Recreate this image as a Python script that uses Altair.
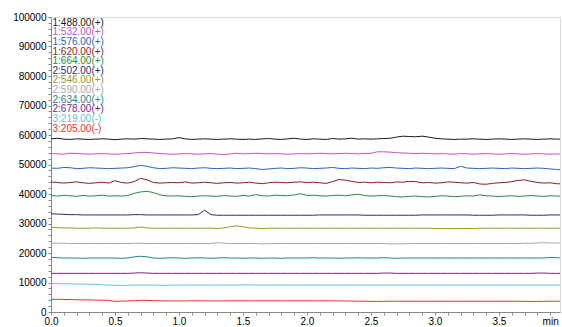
import altair as alt
import pandas as pd

# sampling grid (minutes), 0.05 min steps
times = [round(i * 0.05, 2) for i in range(81)]

labels = ["1:488.00(+)", "1:532.00(+)", "1:576.00(+)", "1:620.00(+)", "1:664.00(+)",
          "2:502.00(+)", "2:546.00(+)", "2:590.00(+)", "2:634.00(+)", "2:678.00(+)",
          "3:219.00(-)", "3:205.00(-)"]
colors = ["#1a1a1a", "#bc56c2", "#2a62c4", "#8b1c1c", "#2a8a3a",
          "#2c2c72", "#9a9a2a", "#a8a8a8", "#1f8585", "#7d1f8c",
          "#5cc8d8", "#e83030"]

s_488 = [58700, 58900, 58600, 58500, 58700, 58600, 58500, 58600, 58700, 58600,
         58400, 58600, 58700, 58600, 58800, 58700, 58600, 58500, 58600, 58700,
         59100, 58700, 58500, 58600, 58700, 58600, 58500, 58600, 58700, 58600,
         58500, 58600, 58500, 58700, 58800, 58600, 58500, 58700, 58900, 58600,
         58500, 58700, 58600, 58500, 58800, 58600, 58700, 58900, 58600, 58700,
         58600, 58700, 58800, 58900, 59300, 59600, 59500, 59400, 59600, 59300,
         58900, 58700, 58600, 58500, 58600, 58600, 58700, 58600, 58500, 58600,
         58700, 58600, 58500, 58600, 58700, 58600, 58500, 58600, 58700, 58600,
         58600]
s_532 = [53700, 53600, 53500, 53800, 53700, 53600, 53500, 53600, 53700, 53600,
         53500, 53600, 53700, 53900, 54100, 54100, 53900, 53700, 53600, 53500,
         53600, 53700, 53600, 53500, 53600, 53700, 53500, 53400, 53600, 53800,
         53600, 53700, 53800, 53700, 53600, 53700, 53600, 53500, 53600, 53700,
         53600, 53700, 53800, 53700, 53600, 53700, 53800, 53700, 53600, 53700,
         53800, 54300, 54300, 54200, 54000, 53900, 53800, 53700, 53800, 53700,
         53600, 53700, 53600, 53500, 53700, 53600, 53500, 53600, 53700, 53600,
         53500, 53600, 53700, 53600, 53500, 53600, 53700, 53600, 53500, 53600,
         53500]
s_576 = [48800, 48700, 49000, 48900, 48600, 48700, 48900, 48800, 48700, 48600,
         48700, 48800, 48900, 49300, 49700, 49400, 48900, 48600, 48700, 48900,
         48800, 48700, 48600, 48800, 48900, 48700, 48600, 48700, 48800, 48600,
         48700, 48800, 48600, 48300, 48500, 48700, 48800, 48600, 48700, 48900,
         48800, 48600, 48700, 48800, 49000, 48700, 48600, 48800, 48700, 48600,
         48800, 48700, 48900, 49000, 48800, 48700, 48600, 48800, 48700, 48600,
         48700, 48800, 48700, 48600, 49400, 48800, 48700, 48600, 48700, 48800,
         48700, 48600, 48800, 48700, 48600, 48700, 48800, 48700, 48500, 48300,
         48200]
s_620 = [44100, 43900, 43700, 43900, 44100, 43800, 43600, 43800, 44000, 43700,
         44500, 43900, 43700, 44200, 45300, 44800, 43900, 43700, 43800, 43900,
         43800, 44100, 43700, 43800, 44000, 43800, 43600, 43800, 43900, 43700,
         43800, 44000, 43700, 43500, 43800, 44000, 43900, 43800, 44000, 44100,
         43900, 44000, 43800, 43600, 44200, 44900, 44700, 44300, 43900, 44000,
         43800, 44000, 43900, 43800, 44100, 44000, 44300, 44200, 43800, 43900,
         43700, 43800, 44100, 44000, 43800, 43700, 43900, 43400, 43300, 43600,
         43800, 43900, 44200, 44600, 44800, 44300, 43900, 43700, 43800, 43500,
         43400]
s_664 = [39500, 39300, 39600, 39400, 39200, 39500, 39300, 39400, 39600, 39300,
         39400, 39300, 39500, 40200, 40700, 40900, 40500, 39700, 39400, 39300,
         39400, 39200, 39100, 39300, 39400, 39300, 39200, 39500, 39300, 39200,
         39500, 39300, 39800, 39400, 39300, 39600, 39500, 39400, 39700, 40100,
         39500, 39600, 39400, 39300, 39500, 39600, 39400, 39700, 39900, 39500,
         39300, 39400, 39500, 39300, 39100, 39000, 39200, 39300, 39100, 39000,
         39200, 39400, 39300, 39100, 39200, 39400, 39300, 39700, 39400, 39300,
         39100, 39300, 39400, 39200, 39300, 39500, 39300, 39200, 39400, 39300,
         39300]
s_502 = [33300, 33200, 33100, 33000, 33000, 32900, 32900, 32900, 32900, 32900,
         32900, 32900, 32900, 33000, 33000, 32900, 32900, 32900, 32900, 32900,
         32900, 32900, 32900, 33000, 34500, 33000, 32800, 32800, 32800, 32800,
         32800, 32800, 32800, 32800, 32800, 32800, 32800, 32800, 32800, 32800,
         32800, 32800, 32900, 32900, 32900, 32900, 32900, 32900, 32900, 32800,
         32800, 32800, 32800, 32800, 32800, 32800, 32800, 32800, 32900, 32900,
         32900, 32900, 32900, 32900, 32900, 32900, 32800, 32800, 32800, 32800,
         32900, 32900, 32900, 32900, 32900, 32800, 32800, 32800, 32900, 32900,
         32900]
s_546 = [28700, 28600, 28500, 28500, 28400, 28400, 28400, 28500, 28400, 28400,
         28400, 28400, 28400, 28500, 28800, 28500, 28400, 28400, 28400, 28400,
         28400, 28400, 28400, 28400, 28400, 28400, 28300, 28500, 28900, 29200,
         28900, 28500, 28400, 28300, 28400, 28400, 28400, 28400, 28400, 28400,
         28400, 28400, 28400, 28400, 28400, 28400, 28400, 28400, 28400, 28400,
         28400, 28400, 28400, 28400, 28400, 28400, 28400, 28400, 28400, 28400,
         28300, 28300, 28300, 28300, 28300, 28300, 28300, 28400, 28400, 28400,
         28400, 28400, 28400, 28400, 28400, 28400, 28400, 28400, 28400, 28400,
         28400]
s_590 = [23400, 23300, 23300, 23200, 23200, 23200, 23200, 23200, 23200, 23200,
         23200, 23200, 23200, 23300, 23300, 23200, 23200, 23200, 23200, 23200,
         23200, 23200, 23200, 23200, 23200, 23200, 23500, 23300, 23200, 23200,
         23200, 23200, 23200, 23100, 23200, 23200, 23200, 23200, 23200, 23200,
         23200, 23200, 23200, 23200, 23200, 23200, 23200, 23200, 23200, 23200,
         23200, 23200, 23200, 23100, 23100, 23100, 23200, 23200, 23200, 23200,
         23200, 23200, 23200, 23200, 23200, 23200, 23200, 23200, 23200, 23200,
         23200, 23200, 23200, 23200, 23300, 23300, 23400, 23500, 23400, 23400,
         23400]
s_634 = [18500, 18400, 18300, 18300, 18300, 18200, 18300, 18300, 18300, 18300,
         18300, 18200, 18300, 18700, 18900, 18700, 18300, 18200, 18300, 18400,
         18300, 18200, 18300, 18400, 18300, 18200, 18300, 18400, 18300, 18300,
         18200, 18300, 18300, 18200, 18300, 18300, 18200, 18300, 18300, 18300,
         18300, 18400, 18300, 18300, 18300, 18200, 18300, 18300, 18400, 18300,
         18300, 18300, 18400, 18300, 18200, 18300, 18300, 18300, 18300, 18300,
         18300, 18300, 18300, 18300, 18300, 18300, 18300, 18300, 18300, 18300,
         18300, 18300, 18300, 18300, 18300, 18300, 18300, 18300, 18500, 18400,
         18300]
s_678 = [13100, 13100, 13100, 13100, 13100, 13100, 13100, 13100, 13100, 13100,
         13100, 13100, 13100, 13200, 13300, 13200, 13100, 13100, 13100, 13100,
         13100, 13100, 13100, 13100, 13100, 13100, 13100, 13100, 13100, 13100,
         13100, 13100, 13100, 13100, 13100, 13100, 13100, 13100, 13100, 13100,
         13100, 13100, 13100, 13100, 13100, 13100, 13100, 13100, 13100, 13100,
         13100, 13100, 13200, 13200, 13100, 13100, 13100, 13100, 13100, 13100,
         13100, 13100, 13100, 13100, 13100, 13100, 13100, 13100, 13100, 13100,
         13100, 13100, 13100, 13100, 13100, 13100, 13200, 13200, 13100, 13100,
         13100]
s_219 = [9700, 9650, 9600, 9550, 9500, 9450, 9400, 9350, 9250, 9150,
         9050, 9000, 9050, 9100, 9150, 9150, 9100, 9050, 9050, 9100,
         9100, 9100, 9150, 9150, 9150, 9100, 9100, 9100, 9150, 9150,
         9200, 9200, 9150, 9150, 9150, 9150, 9150, 9150, 9150, 9150,
         9150, 9150, 9150, 9150, 9150, 9150, 9150, 9150, 9150, 9150,
         9150, 9150, 9150, 9150, 9150, 9150, 9150, 9150, 9150, 9150,
         9150, 9150, 9150, 9150, 9150, 9150, 9150, 9150, 9150, 9150,
         9150, 9150, 9150, 9150, 9150, 9150, 9150, 9150, 9150, 9150,
         9150]
s_205 = [4300, 4300, 4250, 4200, 4150, 4100, 4100, 4050, 4000, 3950,
         3600, 3650, 3750, 3850, 3950, 3950, 3850, 3800, 3750, 3750,
         3750, 3750, 3800, 3800, 3800, 3750, 3750, 3750, 3800, 3800,
         3800, 3800, 3800, 3800, 3800, 3800, 3800, 3800, 3800, 3800,
         3800, 3800, 3800, 3800, 3800, 3750, 3750, 3700, 3650, 3650,
         3600, 3600, 3600, 3650, 3650, 3650, 3650, 3650, 3650, 3650,
         3650, 3650, 3650, 3650, 3650, 3650, 3650, 3650, 3650, 3650,
         3650, 3650, 3650, 3650, 3600, 3600, 3600, 3600, 3650, 3650,
         3650]

series_values = [s_488, s_532, s_576, s_620, s_664, s_502,
                 s_546, s_590, s_634, s_678, s_219, s_205]

x_ticks = [round(i * 0.1, 1) for i in range(40)]
y_ticks = [i * 2000 for i in range(51)]

rows = []
for name, vals in zip(labels, series_values):
    for t, v in zip(times, vals):
        rows.append({"t": t, "v": v, "series": name})
df = pd.DataFrame(rows)
lab_df = pd.DataFrame({"series": labels})

color = alt.Color("series:N", scale=alt.Scale(domain=labels, range=colors), legend=None)

lines = alt.Chart(df).mark_line(strokeWidth=1, clip=True).encode(
    x=alt.X("t:Q", title="",
            scale=alt.Scale(domain=[0, 3.977], nice=False, zero=False),
            axis=alt.Axis(values=x_ticks, grid=False, labelOverlap=False, labelFlush=False,
                          labelExpr="round(datum.value*10) == 39 ? 'min' : (round(datum.value*10) % 5 == 0 ? format(datum.value, '.1f') : '')",
                          tickSize=3, labelPadding=1)),
    y=alt.Y("v:Q", title="",
            scale=alt.Scale(domain=[0, 100000], nice=False),
            axis=alt.Axis(values=y_ticks, grid=False, labelOverlap=False, labelFlush=False,
                          labelExpr="datum.value % 10000 == 0 ? format(datum.value, 'd') : ''",
                          tickSize=3, labelPadding=2)),
    color=color,
    detail="series:N",
)

legend_text = alt.Chart(lab_df).mark_text(
    align="left", baseline="middle", fontSize=10, font="Liberation Sans"
).encode(
    x=alt.value(1.5),
    y=alt.Y("series:N", sort=labels,
            scale=alt.Scale(type="point", range=[5.8, 111.5], padding=0), axis=None),
    text="series:N",
    color=color,
)

chart = alt.layer(lines, legend_text).resolve_scale(y="independent").properties(
    width=509, height=295,
    autosize=alt.AutoSizeParams(type="none"),
    padding={"left": 51, "top": 17, "right": 2, "bottom": 15},
).configure_view(
    stroke="#333333", strokeWidth=1
).configure_axis(
    domainColor="#222222", tickColor="#222222", labelColor="#222222",
    labelFont="Liberation Sans", labelFontSize=11, domainWidth=1, tickWidth=1
).configure(background="white")

chart.save("out.html", embed_options={"renderer": "svg", "actions": False})
